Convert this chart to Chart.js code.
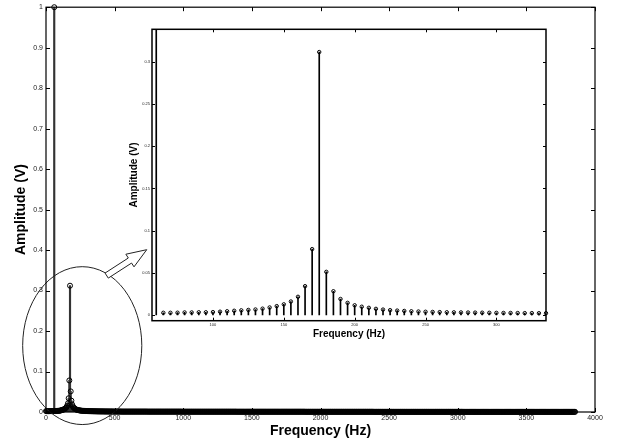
<!DOCTYPE html>
<html>
<head>
<meta charset="utf-8">
<script src="https://cdn.jsdelivr.net/npm/chart.js@4.4.1/dist/chart.umd.min.js"></script>
<style>
  html, body { margin: 0; padding: 0; background: #fff; }
  #wrap { position: relative; width: 619px; height: 446px; }
  #wrap canvas { position: absolute; left: 0; top: 0; }
</style>
</head>
<body>
<div id="wrap">
  <canvas id="chart-main" width="619" height="446"></canvas>
  <canvas id="chart-zoom" width="619" height="446"></canvas>
</div>
<script>
// ─── Dados: espectro (bins de 5 Hz) ──────────────────────────────────────────
const FREQ_STEP = 5;

// 0 … 55 Hz
const ampLow = [
  0.0022, 0.0021, 0.0021, 0.0020, 0.0020, 0.0021, 0.0021, 0.0022, 0.0022, 0.0023, 0.0023, 0.0024,
];

// 60 … 335 Hz (região ampliada)
const ampZoom = [
  1.0,    0.0024, 0.0024, 0.0025, 0.0028, 0.0028, 0.0030, 0.0030, 0.0032, 0.0037,
  0.0042, 0.0048, 0.0053, 0.0058, 0.0063, 0.0073, 0.0087, 0.0103, 0.0124, 0.0158,
  0.0214, 0.0340, 0.0780, 0.3120, 0.0510, 0.0280, 0.0188, 0.0142, 0.0113, 0.0096,
  0.0083, 0.0071, 0.0062, 0.0055, 0.0050, 0.0046, 0.0042, 0.0039, 0.0036, 0.0034,
  0.0032, 0.0030, 0.0029, 0.0028, 0.0027, 0.0026, 0.0025, 0.0024, 0.0023, 0.0022,
  0.0022, 0.0021, 0.0020, 0.0020, 0.0019, 0.0019,
];

// 340 … 3850 Hz (cauda, quase zero)
const ampTail = [
  0.0018, 0.0018, 0.0017, 0.0017, 0.0017, 0.0016, 0.0016, 0.0016, 0.0015, 0.0015, 0.0015, 0.0015, 0.0014, 0.0014, 0.0014, 0.0014, 0.0014, 0.0013, 0.0013, 0.0013,
  0.0013, 0.0013, 0.0013, 0.0012, 0.0012, 0.0012, 0.0012, 0.0012, 0.0012, 0.0012, 0.0011, 0.0011, 0.0011, 0.0011, 0.0011, 0.0011, 0.0011, 0.0011, 0.0011, 0.0011,
  0.0011, 0.0011, 0.0010, 0.0010, 0.0010, 0.0010, 0.0010, 0.0010, 0.0010, 0.0010, 0.0010, 0.0010, 0.0010, 0.0010, 0.0010, 0.0010, 0.0010, 0.0010, 0.0010, 0.0010,
  0.0010, 0.0010, 0.0010, 0.0010, 0.0010, 0.0010, 0.0010, 0.0010, 0.0010, 0.0010, 0.0010, 0.0010, 0.0010, 0.0010, 0.0010, 0.0010, 0.0010, 0.0010, 0.0010, 0.0010,
  0.0009, 0.0009, 0.0009, 0.0009, 0.0009, 0.0009, 0.0009, 0.0009, 0.0009, 0.0009, 0.0009, 0.0009, 0.0009, 0.0009, 0.0009, 0.0009, 0.0009, 0.0009, 0.0009, 0.0009,
  0.0009, 0.0009, 0.0009, 0.0009, 0.0009, 0.0009, 0.0009, 0.0009, 0.0009, 0.0009, 0.0009, 0.0009, 0.0009, 0.0009, 0.0009, 0.0009, 0.0009, 0.0009, 0.0009, 0.0009,
  0.0009, 0.0009, 0.0009, 0.0009, 0.0009, 0.0009, 0.0009, 0.0009, 0.0009, 0.0009, 0.0008, 0.0008, 0.0008, 0.0008, 0.0008, 0.0008, 0.0008, 0.0008, 0.0008, 0.0008,
  0.0008, 0.0008, 0.0008, 0.0008, 0.0008, 0.0008, 0.0008, 0.0008, 0.0008, 0.0008, 0.0008, 0.0008, 0.0008, 0.0008, 0.0008, 0.0008, 0.0008, 0.0008, 0.0008, 0.0008,
  0.0008, 0.0008, 0.0008, 0.0008, 0.0008, 0.0008, 0.0008, 0.0008, 0.0008, 0.0008, 0.0008, 0.0008, 0.0008, 0.0008, 0.0008, 0.0008, 0.0008, 0.0008, 0.0008, 0.0008,
  0.0008, 0.0008, 0.0008, 0.0008, 0.0008, 0.0008, 0.0008, 0.0008, 0.0008, 0.0008, 0.0008, 0.0008, 0.0008, 0.0008, 0.0008, 0.0008, 0.0008, 0.0008, 0.0008, 0.0008,
  0.0008, 0.0008, 0.0008, 0.0008, 0.0008, 0.0008, 0.0008, 0.0008, 0.0008, 0.0008, 0.0007, 0.0007, 0.0007, 0.0007, 0.0007, 0.0007, 0.0007, 0.0007, 0.0007, 0.0007,
  0.0007, 0.0007, 0.0007, 0.0007, 0.0007, 0.0007, 0.0007, 0.0007, 0.0007, 0.0007, 0.0007, 0.0007, 0.0007, 0.0007, 0.0007, 0.0007, 0.0007, 0.0007, 0.0007, 0.0007,
  0.0007, 0.0007, 0.0007, 0.0007, 0.0007, 0.0007, 0.0007, 0.0007, 0.0007, 0.0007, 0.0007, 0.0007, 0.0007, 0.0007, 0.0007, 0.0007, 0.0007, 0.0007, 0.0007, 0.0007,
  0.0007, 0.0007, 0.0007, 0.0007, 0.0007, 0.0007, 0.0007, 0.0007, 0.0007, 0.0007, 0.0007, 0.0007, 0.0007, 0.0007, 0.0007, 0.0007, 0.0007, 0.0007, 0.0007, 0.0007,
  0.0007, 0.0007, 0.0007, 0.0007, 0.0007, 0.0007, 0.0007, 0.0007, 0.0007, 0.0007, 0.0007, 0.0007, 0.0007, 0.0007, 0.0007, 0.0007, 0.0007, 0.0007, 0.0007, 0.0007,
  0.0007, 0.0007, 0.0007, 0.0007, 0.0007, 0.0007, 0.0007, 0.0007, 0.0007, 0.0007, 0.0006, 0.0006, 0.0006, 0.0006, 0.0006, 0.0006, 0.0006, 0.0006, 0.0006, 0.0006,
  0.0006, 0.0006, 0.0006, 0.0006, 0.0006, 0.0006, 0.0006, 0.0006, 0.0006, 0.0006, 0.0006, 0.0006, 0.0006, 0.0006, 0.0006, 0.0006, 0.0006, 0.0006, 0.0006, 0.0006,
  0.0006, 0.0006, 0.0006, 0.0006, 0.0006, 0.0006, 0.0006, 0.0006, 0.0006, 0.0006, 0.0006, 0.0006, 0.0006, 0.0006, 0.0006, 0.0006, 0.0006, 0.0006, 0.0006, 0.0006,
  0.0006, 0.0006, 0.0006, 0.0006, 0.0006, 0.0006, 0.0006, 0.0006, 0.0006, 0.0006, 0.0006, 0.0006, 0.0006, 0.0006, 0.0006, 0.0006, 0.0006, 0.0006, 0.0006, 0.0006,
  0.0006, 0.0006, 0.0006, 0.0006, 0.0006, 0.0006, 0.0006, 0.0006, 0.0006, 0.0006, 0.0006, 0.0006, 0.0006, 0.0006, 0.0006, 0.0006, 0.0006, 0.0006, 0.0006, 0.0006,
  0.0006, 0.0006, 0.0006, 0.0006, 0.0006, 0.0006, 0.0006, 0.0006, 0.0006, 0.0006, 0.0005, 0.0005, 0.0005, 0.0005, 0.0005, 0.0005, 0.0005, 0.0005, 0.0005, 0.0005,
  0.0005, 0.0005, 0.0005, 0.0005, 0.0005, 0.0005, 0.0005, 0.0005, 0.0005, 0.0005, 0.0005, 0.0005, 0.0005, 0.0005, 0.0005, 0.0005, 0.0005, 0.0005, 0.0005, 0.0005,
  0.0005, 0.0005, 0.0005, 0.0005, 0.0005, 0.0005, 0.0005, 0.0005, 0.0005, 0.0005, 0.0005, 0.0005, 0.0005, 0.0005, 0.0005, 0.0005, 0.0005, 0.0005, 0.0005, 0.0005,
  0.0005, 0.0005, 0.0005, 0.0005, 0.0005, 0.0005, 0.0005, 0.0005, 0.0005, 0.0005, 0.0005, 0.0005, 0.0005, 0.0005, 0.0005, 0.0005, 0.0005, 0.0005, 0.0005, 0.0005,
  0.0005, 0.0005, 0.0005, 0.0005, 0.0005, 0.0005, 0.0005, 0.0005, 0.0005, 0.0005, 0.0005, 0.0005, 0.0005, 0.0005, 0.0005, 0.0005, 0.0005, 0.0005, 0.0005, 0.0005,
  0.0005, 0.0005, 0.0005, 0.0005, 0.0005, 0.0005, 0.0005, 0.0005, 0.0005, 0.0005, 0.0005, 0.0005, 0.0005, 0.0005, 0.0005, 0.0005, 0.0005, 0.0005, 0.0005, 0.0005,
  0.0005, 0.0005, 0.0005, 0.0005, 0.0005, 0.0005, 0.0005, 0.0005, 0.0005, 0.0005, 0.0005, 0.0005, 0.0005, 0.0005, 0.0005, 0.0005, 0.0005, 0.0005, 0.0005, 0.0005,
  0.0004, 0.0004, 0.0004, 0.0004, 0.0004, 0.0004, 0.0004, 0.0004, 0.0004, 0.0004, 0.0004, 0.0004, 0.0004, 0.0004, 0.0004, 0.0004, 0.0004, 0.0004, 0.0004, 0.0004,
  0.0004, 0.0004, 0.0004, 0.0004, 0.0004, 0.0004, 0.0004, 0.0004, 0.0004, 0.0004, 0.0004, 0.0004, 0.0004, 0.0004, 0.0004, 0.0004, 0.0004, 0.0004, 0.0004, 0.0004,
  0.0004, 0.0004, 0.0004, 0.0004, 0.0004, 0.0004, 0.0004, 0.0004, 0.0004, 0.0004, 0.0004, 0.0004, 0.0004, 0.0004, 0.0004, 0.0004, 0.0004, 0.0004, 0.0004, 0.0004,
  0.0004, 0.0004, 0.0004, 0.0004, 0.0004, 0.0004, 0.0004, 0.0004, 0.0004, 0.0004, 0.0004, 0.0004, 0.0004, 0.0004, 0.0004, 0.0004, 0.0004, 0.0004, 0.0004, 0.0004,
  0.0004, 0.0004, 0.0004, 0.0004, 0.0004, 0.0004, 0.0004, 0.0004, 0.0004, 0.0004, 0.0004, 0.0004, 0.0004, 0.0004, 0.0004, 0.0004, 0.0004, 0.0004, 0.0004, 0.0004,
  0.0004, 0.0004, 0.0004, 0.0004, 0.0004, 0.0004, 0.0004, 0.0004, 0.0004, 0.0004, 0.0004, 0.0004, 0.0004, 0.0004, 0.0004, 0.0004, 0.0004, 0.0004, 0.0004, 0.0004,
  0.0004, 0.0004, 0.0004, 0.0004, 0.0004, 0.0004, 0.0004, 0.0004, 0.0004, 0.0004, 0.0004, 0.0004, 0.0004, 0.0004, 0.0004, 0.0004, 0.0004, 0.0004, 0.0004, 0.0004,
  0.0004, 0.0004, 0.0004, 0.0004, 0.0004, 0.0004, 0.0004, 0.0004, 0.0004, 0.0004, 0.0004, 0.0004, 0.0004, 0.0004, 0.0004, 0.0004, 0.0004, 0.0004, 0.0004, 0.0004,
  0.0004, 0.0004, 0.0004, 0.0004,
];

// ─── Eixos ────────────────────────────────────────────────────────────────────
const mainXTicks = [0, 500, 1000, 1500, 2000, 2500, 3000, 3500, 4000];
const mainYTicks = [0, 0.1, 0.2, 0.3, 0.4, 0.5, 0.6, 0.7, 0.8, 0.9, 1];
const zoomXTicks = [100, 150, 200, 250, 300];
const zoomYTicks = [0, 0.05, 0.1, 0.15, 0.2, 0.25, 0.3];
const zoomXRange = [57, 335];
const zoomYRange = [-0.007, 0.339];

// Anotações (em unidades de dados do gráfico principal)
const ellipseAnn = { f: 264, a: 0.164, rf: 434, ra: 0.195 };
const arrowAnn   = { from: [442, 0.337], to: [734, 0.401] };

const FONT = "'Liberation Sans', Arial, Helvetica, sans-serif";

// ─── Pontos ───────────────────────────────────────────────────────────────────
const amps   = [...ampLow, ...ampZoom, ...ampTail];
const pontos = amps.map((a, i) => ({ x: i * FREQ_STEP, y: a }));
const pontosZoom = pontos.filter(p => p.x >= zoomXRange[0] && p.x <= zoomXRange[1]);

// ─── Moldura com ticks para dentro (estilo MATLAB) ───────────────────────────
function moldura(tickLen, lineW) {
  return {
    id: 'moldura',
    afterDraw(chart) {
      const { ctx, chartArea: a, scales: { x, y } } = chart;
      ctx.save();
      ctx.strokeStyle = '#000';
      ctx.lineWidth = 1;
      ctx.beginPath();
      x.ticks.forEach(t => {
        const px = Math.round(x.getPixelForValue(t.value)) + 0.5;
        ctx.moveTo(px, a.bottom); ctx.lineTo(px, a.bottom - tickLen);
        ctx.moveTo(px, a.top);    ctx.lineTo(px, a.top + tickLen);
      });
      y.ticks.forEach(t => {
        const py = Math.round(y.getPixelForValue(t.value)) + 0.5;
        ctx.moveTo(a.left, py);  ctx.lineTo(a.left + tickLen, py);
        ctx.moveTo(a.right, py); ctx.lineTo(a.right - tickLen, py);
      });
      ctx.stroke();
      ctx.lineWidth = lineW;
      ctx.strokeRect(a.left, a.top, a.right - a.left, a.bottom - a.top);
      ctx.restore();
    },
  };
}

// Elipse + seta vazada apontando para o zoom
const anotacoes = {
  id: 'anotacoes',
  afterDatasetsDraw(chart) {
    const { ctx, scales: { x, y } } = chart;
    ctx.save();
    ctx.strokeStyle = '#222';
    ctx.lineWidth = 1;

    const cx = x.getPixelForValue(ellipseAnn.f);
    const cy = y.getPixelForValue(ellipseAnn.a);
    const rx = x.getPixelForValue(ellipseAnn.f + ellipseAnn.rf) - cx;
    const ry = cy - y.getPixelForValue(ellipseAnn.a + ellipseAnn.ra);
    ctx.beginPath();
    ctx.ellipse(cx, cy, rx, ry, 0, 0, Math.PI * 2);
    ctx.stroke();

    const tx = x.getPixelForValue(arrowAnn.from[0]), ty = y.getPixelForValue(arrowAnn.from[1]);
    const px = x.getPixelForValue(arrowAnn.to[0]),   py = y.getPixelForValue(arrowAnn.to[1]);
    const len = Math.hypot(px - tx, py - ty);
    const ux = (px - tx) / len, uy = (py - ty) / len;
    const nx = -uy, ny = ux;
    const head = 20, hw = 7.5, sw = 3;
    const bx = tx + ux * (len - head), by = ty + uy * (len - head);
    ctx.beginPath();
    ctx.moveTo(tx + nx * sw, ty + ny * sw);
    ctx.lineTo(bx + nx * sw, by + ny * sw);
    ctx.lineTo(bx + nx * hw, by + ny * hw);
    ctx.lineTo(px, py);
    ctx.lineTo(bx - nx * hw, by - ny * hw);
    ctx.lineTo(bx - nx * sw, by - ny * sw);
    ctx.lineTo(tx - nx * sw, ty - ny * sw);
    ctx.closePath();
    ctx.fillStyle = '#fff';
    ctx.fill();
    ctx.stroke();
    ctx.restore();
  },
};

const fmt = v => String(v);

function eixoX(ticks, min, max, size, titleSize, pad, height, titlePadBottom) {
  return {
    type: 'linear', min, max, offset: false,
    afterBuildTicks: s => { s.ticks = ticks.map(v => ({ value: v })); },
    afterFit: s => { s.height = height; },
    grid: { display: false, drawTicks: false },
    border: { display: false },
    ticks: { font: { size, family: FONT }, color: '#222', padding: pad, maxRotation: 0, autoSkip: false, callback: fmt },
    title: { display: true, text: 'Frequency (Hz)', color: '#000',
             font: { size: titleSize, weight: 'bold', family: FONT },
             padding: { top: 0, bottom: titlePadBottom } },
  };
}

function eixoY(ticks, min, max, size, titleSize, pad, width, titlePadTop) {
  return {
    type: 'linear', min, max,
    afterBuildTicks: s => { s.ticks = ticks.map(v => ({ value: v })); },
    afterFit: s => { s.width = width; },
    grid: { display: false, drawTicks: false },
    border: { display: false },
    ticks: { font: { size, family: FONT }, color: '#222', padding: pad, autoSkip: false, callback: fmt },
    title: { display: true, text: 'Amplitude (V)', color: '#000',
             font: { size: titleSize, weight: 'bold', family: FONT },
             padding: { top: titlePadTop, bottom: 0 } },
  };
}

// ─── Gráfico principal ────────────────────────────────────────────────────────
new Chart(document.getElementById('chart-main'), {
  type: 'bar',
  data: {
    datasets: [
      { type: 'bar', data: pontos, backgroundColor: '#333', borderWidth: 0,
        barThickness: 1.5, grouped: false, order: 2 },
      { type: 'scatter', data: pontos, pointStyle: 'circle', pointRadius: 2.5,
        borderWidth: 1, borderColor: '#000', backgroundColor: 'rgba(0,0,0,0)',
        clip: false, order: 1 },
    ],
  },
  options: {
    responsive: false,
    animation: false,
    events: [],
    layout: { padding: { top: 6, right: 24, left: 0, bottom: 0 } },
    scales: {
      x: eixoX(mainXTicks, 0, 4000, 7, 14, 2, 34, 6.6),
      y: eixoY(mainYTicks, 0, 1, 7, 14, 3, 46, 13),
    },
    plugins: { legend: { display: false }, tooltip: { enabled: false } },
  },
  plugins: [anotacoes, moldura(4, 1.2)],
});

// ─── Gráfico ampliado (inset) ─────────────────────────────────────────────────
new Chart(document.getElementById('chart-zoom'), {
  type: 'bar',
  data: {
    datasets: [
      { type: 'bar', data: pontosZoom, backgroundColor: '#000', borderWidth: 0,
        barThickness: 1, grouped: false, clip: 0, order: 2 },
      { type: 'scatter', data: pontosZoom.filter(p => p.y <= zoomYRange[1]),
        pointStyle: 'circle', pointRadius: 1.7, borderWidth: 1, borderColor: '#000',
        backgroundColor: 'rgba(0,0,0,0)', clip: false, order: 1 },
    ],
  },
  options: {
    responsive: false,
    animation: false,
    events: [],
    layout: { padding: { top: 29.3, right: 73, left: 110, bottom: 101.3 } },
    scales: {
      x: eixoX(zoomXTicks, zoomXRange[0], zoomXRange[1], 4, 10, 2, 24, 4.7),
      y: eixoY(zoomYTicks, zoomYRange[0], zoomYRange[1], 4, 10, 2, 42, 18),
    },
    plugins: { legend: { display: false }, tooltip: { enabled: false } },
  },
  plugins: [moldura(3, 1.5)],
});
</script>
</body>
</html>
